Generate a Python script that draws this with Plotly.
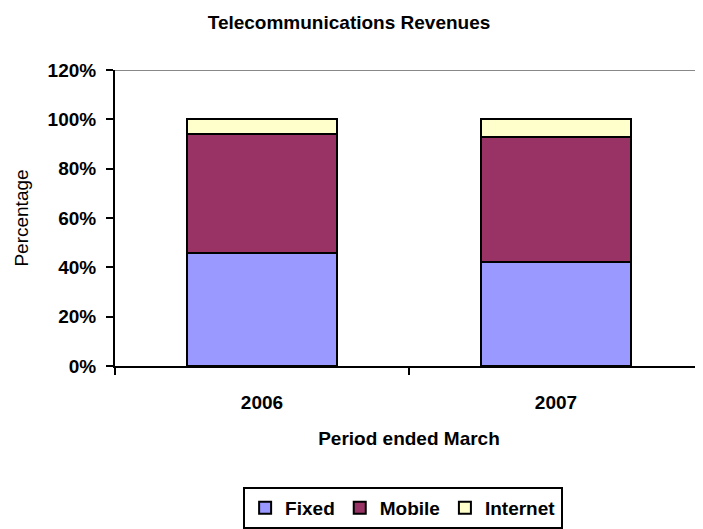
import plotly.graph_objects as go

categories = ["2006", "2007"]
fixed = [0.46, 0.42]
mobile = [0.48, 0.51]
internet = [0.06, 0.07]
y_ticks = [0, 0.2, 0.4, 0.6, 0.8, 1.0, 1.2]
y_tick_labels = ["0%", "20%", "40%", "60%", "80%", "100%", "120%"]

FONT = "Arial, Liberation Sans, sans-serif"
line = dict(color="black", width=2)
FS = 19

fig = go.Figure()
fig.add_trace(go.Bar(name="Fixed", x=categories, y=fixed,
                     marker=dict(color="#9999FF", line=line)))
fig.add_trace(go.Bar(name="Mobile", x=categories, y=mobile,
                     marker=dict(color="#993366", line=line)))
fig.add_trace(go.Bar(name="Internet", x=categories, y=internet,
                     marker=dict(color="#FFFFCC", line=line)))

W, H = 695, 521
fig.update_layout(
    barmode="stack",
    bargap=0.49,
    width=W, height=H,
    margin=dict(l=107, r=0, t=62, b=156, pad=0),
    paper_bgcolor="white", plot_bgcolor="white",
    font=dict(family=FONT, color="black", size=FS),
    title=dict(text="Telecommunications Revenues", x=341 / W, xanchor="center",
               y=1 - 14 / H, yanchor="middle", font=dict(size=FS, weight="bold")),
    showlegend=True,
    legend=dict(orientation="h", x=0.49, xanchor="center", y=-0.409, yanchor="top",
                bordercolor="black", borderwidth=2, font=dict(size=FS, weight="bold"),
                itemwidth=30, traceorder="normal", itemclick=False),
    xaxis=dict(type="category", range=[-0.5, 1.5], showline=True, linecolor="black",
               linewidth=2, ticks="outside", tickson="boundaries", ticklen=7,
               tickcolor="black", tickwidth=2, tickfont=dict(size=FS, weight="bold"),
               ticklabelstandoff=18,
               title=dict(text="Period ended March", font=dict(size=FS, weight="bold"),
                          standoff=20)),
    yaxis=dict(range=[0, 1.2], tickvals=y_ticks, ticktext=y_tick_labels,
               showline=True, linecolor="black", linewidth=2, ticks="outside",
               ticklen=7, tickcolor="black", tickwidth=2, showgrid=False, zeroline=False,
               tickfont=dict(size=FS, weight="bold"), ticklabelstandoff=6,
               title=dict(text="Percentage", font=dict(size=FS), standoff=14)),
    shapes=[dict(type="line", xref="paper", yref="y", x0=0, x1=1, y0=1.2, y1=1.2,
                 line=dict(color="#888888", width=2))],
)

fig.write_html("out.html")
